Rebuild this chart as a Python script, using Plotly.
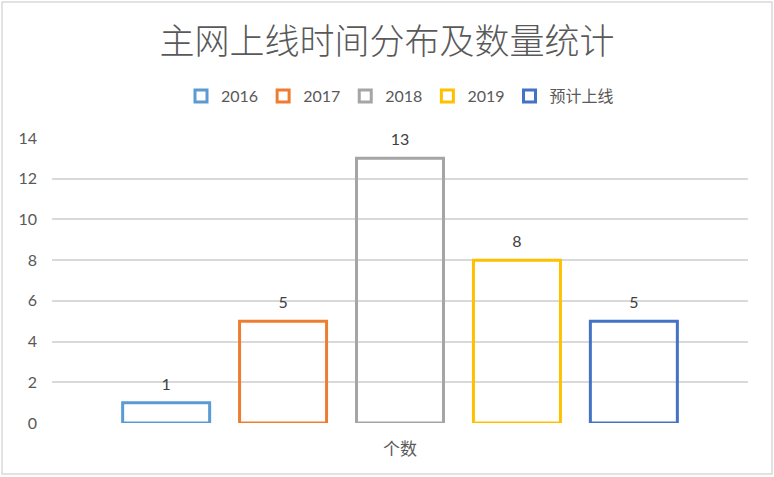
import plotly.graph_objects as go

categories = ["个数"]
series_names = ["2016", "2017", "2018", "2019", "预计上线"]
series_values = [1, 5, 13, 8, 5]
colors = ["#5B9BD5", "#ED7D31", "#A5A5A5", "#FFC000", "#4472C4"]
title_text = "主网上线时间分布及数量统计"
y_ticks = [0, 2, 4, 6, 8, 10, 12, 14]

cjk = "Noto Sans CJK SC, sans-serif"
num = "Lato, Noto Sans CJK SC, sans-serif"

fig = go.Figure()
for name, val, col in zip(series_names, series_values, colors):
    fig.add_trace(go.Bar(
        x=categories, y=[val], name=name,
        marker=dict(color="rgba(255,255,255,0)", line=dict(color=col, width=3)),
        text=[f"<span style='font-size:16px'>{val}</span><br> "], textposition="outside",
        textfont=dict(size=7, color="#404040", family=num),
        cliponaxis=False,
    ))

fig.update_layout(
    width=774, height=477,
    paper_bgcolor="white", plot_bgcolor="white",
    margin=dict(l=52, r=26, t=138, b=54),
    barmode="group", bargap=0.16, bargroupgap=0.256,
    title=dict(text=title_text, x=0.5, xanchor="center", y=1 - 42 / 477, yanchor="middle",
               font=dict(size=35, color="#595959", family=cjk, weight=300)),
    legend=dict(orientation="h", x=0.5, xanchor="center", y=1 - 96 / 477, yref="container",
                yanchor="middle", font=dict(size=16, color="#595959", family=num),
                itemwidth=30, traceorder="normal"),
    showlegend=True,
    font=dict(family=num),
)
fig.update_yaxes(range=[0, 14], tickvals=y_ticks, showgrid=True, gridcolor="#D9D9D9", gridwidth=1.5,
                 zeroline=False, showline=False, ticks="", ticklabelstandoff=14,
                 tickfont=dict(size=16, color="#595959", family=num))
fig.update_xaxes(showgrid=False, showline=False, zeroline=False, ticks="", ticklabelstandoff=14,
                 tickfont=dict(size=17, color="#595959", family=cjk))
fig.add_shape(type="rect", xref="paper", yref="paper",
              x0=(2 - 52) / 696, x1=(772 - 52) / 696, y0=(423 - 474) / 285, y1=(423 - 2) / 285,
              line=dict(color="#D9D9D9", width=1.5), fillcolor="rgba(0,0,0,0)", layer="below")

fig.write_html("out.html", config={"displayModeBar": False},
               post_script="document.body.style.margin='0px';")
